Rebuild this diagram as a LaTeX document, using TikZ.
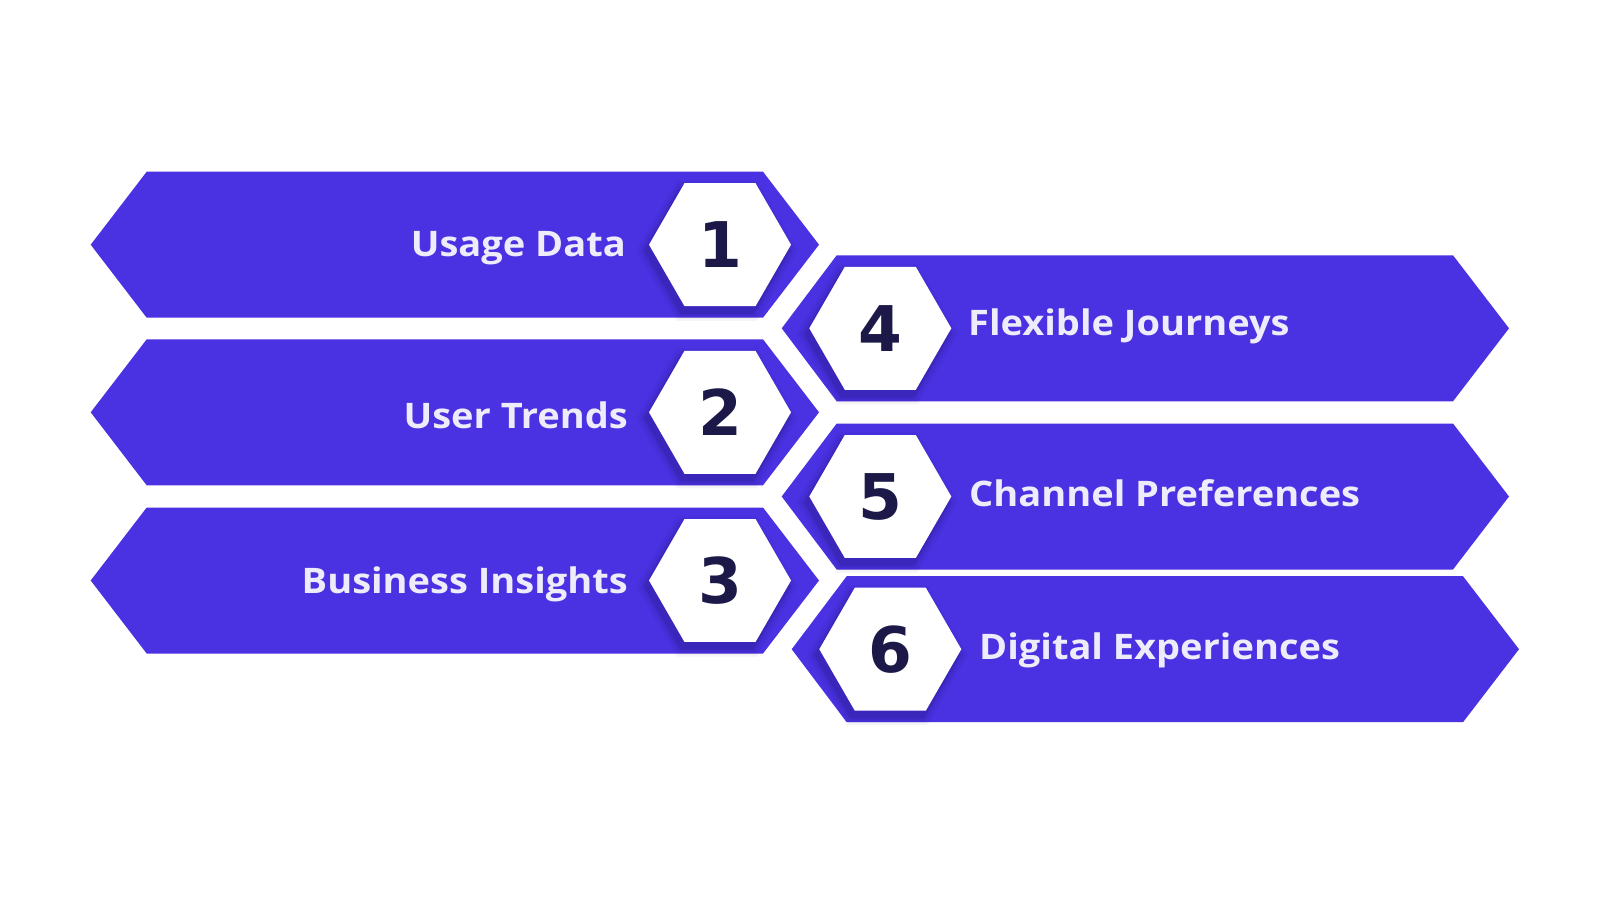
\documentclass[tikz,border=0pt]{standalone}
\usepackage{fontspec}
\setmainfont{Open Sans}[FakeStretch=1.08]
\newfontfamily\digitfont{DejaVu Sans}
\definecolor{bandc}{RGB}{74,50,226}
\definecolor{lblc}{RGB}{238,236,250}
\definecolor{numc}{RGB}{28,25,72}
\definecolor{shdc}{RGB}{20,8,80}
\begin{document}
\begin{tikzpicture}[x=1pt,y=-1pt,
  bandshape/.style={fill=bandc},
  hexshape/.style={fill=white},
  lbltext/.style={text=lblc,font={\bfseries\fontsize{35.2}{42}\selectfont},inner sep=0pt},
  numtext/.style={text=numc,font={\digitfont\bfseries\fontsize{63}{70}\selectfont},inner sep=0pt}]
\useasboundingbox[fill=white] (0,0) rectangle (1600,900);
% left bands
\foreach \m in {244.7,412.3,580.5}{
  \fill[bandshape] (90.7,\m) -- (146.7,{\m-73}) -- (763,{\m-73}) -- (819,\m) -- (763,{\m+73}) -- (146.7,{\m+73}) -- cycle;
}
% right bands
\foreach \m/\o in {328.3/0,496.5/0,649.2/10}{
  \fill[bandshape] ({781.7+\o},\m) -- ({836.7+\o},{\m-73}) -- ({1453+\o},{\m-73}) -- ({1509+\o},\m) -- ({1453+\o},{\m+73}) -- ({836.7+\o},{\m+73}) -- cycle;
}
% hexagons with soft shadow and numbers
\foreach \cx/\cy/\d in {720/244.7/1,720/412.3/2,720/580.5/3,880.3/328.3/4,880.3/496.5/5,890.3/649.2/6}{
  \begin{scope}[shift={(\cx,\cy)}]
    \foreach \s/\op in {10/0.04,7/0.06,4/0.08,2/0.10}{
      \fill[shdc,opacity=\op] (-3,6) +(0:{71+\s}) -- +(60:{71+\s}) -- +(120:{71+\s}) -- +(180:{71+\s}) -- +(240:{71+\s}) -- +(300:{71+\s}) -- cycle;
    }
    \fill[hexshape] (0:71) -- (60:71) -- (120:71) -- (180:71) -- (240:71) -- (300:71) -- cycle;
    \node[numtext] (n\d) at (0,0) {\d};
  \end{scope}
}
% labels
\node[lbltext,anchor=base east] (t1) at (626,256) {Usage Data};
\node[lbltext,anchor=base east] (t2) at (628,428) {User Trends};
\node[lbltext,anchor=base east] (t3) at (628,593) {Business Insights};
\node[lbltext,anchor=base west] (t4) at (968,335) {Flexible Journeys};
\node[lbltext,anchor=base west] (t5) at (969,506) {Channel Preferences};
\node[lbltext,anchor=base west] (t6) at (979,659) {Digital Experiences};
\end{tikzpicture}
\end{document}
